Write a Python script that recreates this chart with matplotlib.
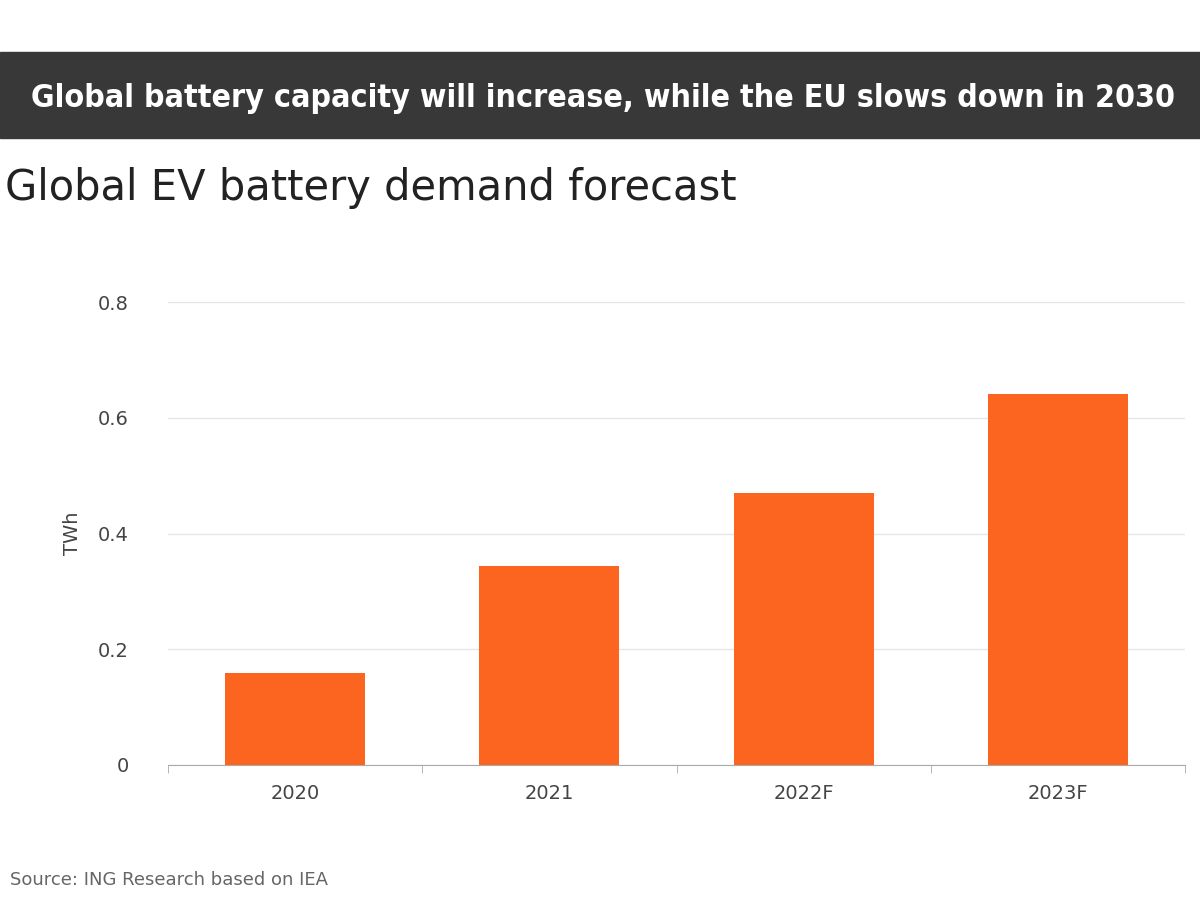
import numpy as np
import matplotlib.pyplot as plt

years = ["2020", "2021", "2022F", "2023F"]
demand_twh = [0.159, 0.344, 0.470, 0.641]
yticks = [0, 0.2, 0.4, 0.6, 0.8]
ytick_labels = ["0", "0.2", "0.4", "0.6", "0.8"]

fig = plt.figure(figsize=(12, 9), dpi=100)
fig.patch.set_facecolor("white")

# dark banner with headline
fig.patches.append(plt.Rectangle((0, 1 - 138 / 900), 1, 86 / 900,
                                 transform=fig.transFigure, color="#383838"))
fig.text(0.979, 1 - 98 / 900, "Global battery capacity will increase, while the EU slows down in 2030",
         color="white", fontsize=23, fontweight="bold", fontstretch="condensed",
         ha="right", va="center")
fig.text(0.004, 1 - 188 / 900, "Global EV battery demand forecast",
         color="#222222", fontsize=30, ha="left", va="center")
fig.text(0.008, 1 - 880 / 900, "Source: ING Research based on IEA",
         color="#666666", fontsize=13, ha="left", va="center")

ax = fig.add_axes([168 / 1200, 1 - 765 / 900, (1185 - 168) / 1200, (765 - 302) / 900])
x = np.arange(len(years))
ax.bar(x, demand_twh, width=0.55, color="#fc6520", zorder=3)
ax.set_xlim(-0.5, 3.5)
ax.set_ylim(0, 0.8)
ax.set_xticks(x)
ax.set_xticklabels(years, fontsize=14, color="#444444")
ax.set_xticks(np.arange(-0.5, 4.0, 1.0), minor=True)
ax.tick_params(axis="x", which="major", length=0, pad=14)
ax.tick_params(axis="x", which="minor", length=6, color="#aaaaaa")
ax.set_yticks(yticks)
ax.set_yticklabels(ytick_labels, fontsize=14, color="#444444")
ax.tick_params(axis="y", length=0, pad=28)
ax.set_ylabel("TWh", fontsize=14, color="#444444", labelpad=12)
ax.grid(axis="y", color="#e6e6e6", linewidth=1, zorder=0)
for s in ["top", "right", "left"]:
    ax.spines[s].set_visible(False)
ax.spines["bottom"].set_color("#aaaaaa")

fig.savefig("out.png", dpi=100)
